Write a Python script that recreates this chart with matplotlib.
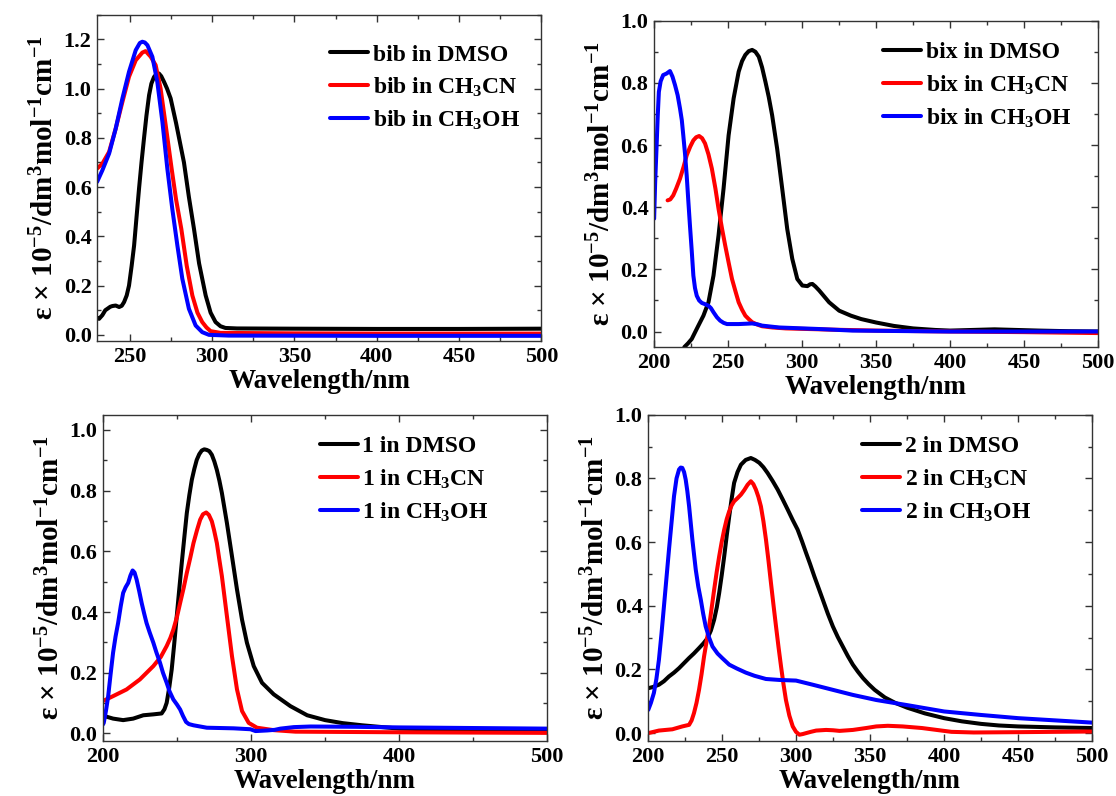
import matplotlib
matplotlib.use("Agg")
import matplotlib.pyplot as plt
from matplotlib.ticker import MultipleLocator, FormatStrFormatter

plt.rcParams['font.family'] = ['Liberation Serif', 'DejaVu Serif']
plt.rcParams['font.weight'] = 'bold'
plt.rcParams['axes.labelweight'] = 'bold'
plt.rcParams['mathtext.fontset'] = 'custom'
plt.rcParams['mathtext.rm'] = 'Liberation Serif:bold'
plt.rcParams['mathtext.it'] = 'Liberation Serif:bold'
plt.rcParams['mathtext.bf'] = 'Liberation Serif:bold'

############################################################################
#                      DATA
############################################################################

# --- bib ---
bib_dmso_x = [230, 231.2, 233.2, 235, 236.3, 238, 239.3, 241.3, 243.4, 245, 246.4, 248, 249.4,
              251, 252.5, 254, 255.5, 257, 258.5, 260, 261.6, 263, 264.6, 266, 267.6, 269,
              270.7, 272.5, 274.7, 278, 282.8, 285.8, 288.9, 292, 296, 299, 302, 305, 308,
              315, 350, 400, 450, 500]
bib_dmso_y = [0.07, 0.065, 0.08, 0.1, 0.106, 0.114, 0.117, 0.119, 0.113, 0.118, 0.133, 0.16, 0.2,
              0.28, 0.363, 0.48, 0.594, 0.7, 0.797, 0.89, 0.973, 1.02, 1.047, 1.058, 1.061, 1.05,
              1.027, 1.0, 0.96, 0.86, 0.7, 0.56, 0.43, 0.29, 0.16, 0.09, 0.052, 0.035, 0.028,
              0.026, 0.025, 0.024, 0.024, 0.025]
bib_mecn_x = [230, 233.2, 237.3, 241.3, 245.4, 249.4, 253.5, 257.5, 259.5, 262.6, 265.6, 268.6,
              271.7, 275.3, 278, 281.2, 284.5, 287.9, 291, 293.9, 296.5, 299, 305, 350, 400, 500]
bib_mecn_y = [0.675, 0.695, 0.743, 0.837, 0.946, 1.048, 1.115, 1.146, 1.152, 1.129, 1.095, 1.0,
              0.851, 0.675, 0.55, 0.43, 0.28, 0.16, 0.09, 0.052, 0.03, 0.015, 0.008, 0.006, 0.005,
              0.005]
bib_meoh_x = [230, 233.2, 237.3, 241.3, 245.4, 249.4, 253.5, 256, 257.5, 259, 260.6, 263.6, 266.6,
              269.7, 272.7, 275.7, 278.8, 281.8, 285.8, 289.9, 293.9, 298, 310, 400, 500]
bib_meoh_y = [0.621, 0.668, 0.736, 0.837, 0.96, 1.068, 1.156, 1.185, 1.19, 1.187, 1.176, 1.129,
              1.027, 0.865, 0.675, 0.512, 0.363, 0.228, 0.106, 0.038, 0.011, 0.0, -0.003, -0.004,
              -0.004]

# --- bix ---
bix_dmso_x = [220.5, 223, 225.5, 228, 230, 233.4, 236.8, 240.2, 243.6, 247, 250.4, 253.8, 257.2,
              259.5, 261.7, 264, 266.3, 268.5, 270.8, 273, 275.3, 277.5, 279.8, 283.2, 286.6, 290,
              293.4, 296.8, 300.2, 303.6, 305.5, 307, 309, 311.6, 318.3, 325.1, 333, 340, 350,
              362, 375, 390, 400, 415, 430, 445, 460, 480, 500]
bix_dmso_y = [-0.05, -0.038, -0.024, 0.0, 0.019, 0.051, 0.094, 0.18, 0.309, 0.46, 0.631, 0.75,
              0.836, 0.87, 0.89, 0.902, 0.906, 0.9, 0.884, 0.85, 0.803, 0.755, 0.696, 0.588, 0.46,
              0.33, 0.234, 0.169, 0.148, 0.146, 0.152, 0.153, 0.145, 0.132, 0.094, 0.067, 0.051,
              0.04, 0.029, 0.018, 0.01, 0.005, 0.003, 0.005, 0.007, 0.005, 0.003, 0.001, 0.0]
bix_mecn_x = [209.2, 211, 213, 215, 217.6, 220, 222.1, 224.5, 226.6, 228.5, 230.5, 232.5, 234.5,
              236.8, 239.1, 241.5, 243.6, 246, 248.1, 250.5, 252.7, 255, 257.2, 259.5, 261.7, 264,
              266.3, 270, 273, 280, 289, 320, 350, 400, 450, 500]
bix_mecn_y = [0.422, 0.425, 0.438, 0.46, 0.492, 0.53, 0.567, 0.595, 0.615, 0.625, 0.629, 0.622,
              0.605, 0.57, 0.524, 0.46, 0.395, 0.33, 0.277, 0.22, 0.169, 0.13, 0.094, 0.07, 0.051,
              0.04, 0.03, 0.022, 0.017, 0.013, 0.01, 0.006, 0.003, 0.0, -0.002, -0.005]
bix_meoh_x = [200.1, 200.8, 201.7, 202.5, 203.3, 204.5, 206.2, 208.5, 210.8, 212.5, 214.2, 216,
              217.6, 218.8, 219.8, 221, 222.1, 223.2, 224.3, 225.5, 226.6, 227.7, 228.9, 230.5,
              232.3, 234.5, 236.8, 238.5, 240.2, 242.5, 244.7, 247, 249.3, 257.2, 262, 266.3,
              270, 273, 284.4, 311.6, 334, 400, 450, 500]
bix_meoh_y = [0.363, 0.48, 0.588, 0.69, 0.771, 0.805, 0.825, 0.83, 0.838, 0.82, 0.793, 0.76,
              0.717, 0.68, 0.631, 0.57, 0.502, 0.42, 0.341, 0.26, 0.18, 0.14, 0.115, 0.1, 0.092,
              0.088, 0.083, 0.075, 0.062, 0.046, 0.035, 0.028, 0.024, 0.024, 0.025, 0.026, 0.023,
              0.019, 0.013, 0.008, 0.003, 0.0, 0.0, 0.0]

# --- compound 1 ---
c1_dmso_x = [200, 201.2, 206.8, 213.6, 220.4, 227.2, 234, 239.6, 241.5, 243, 244.7, 246.4, 248,
             249.8, 251.5, 253.2, 255, 256.6, 258.3, 260, 261.7, 263.3, 265, 266.7, 268.4, 270.1,
             271.8, 273.5, 275.2, 276.9, 278.6, 280.3, 283.7, 287.1, 290.5, 293.9, 297.2, 301.8,
             307.4, 315.3, 326.6, 337.9, 350, 362, 375, 400, 450, 500]
c1_dmso_y = [0.06, 0.057, 0.049, 0.044, 0.049, 0.06, 0.063, 0.066, 0.08, 0.101, 0.15, 0.211,
             0.29, 0.386, 0.475, 0.562, 0.65, 0.726, 0.785, 0.836, 0.872, 0.901, 0.92, 0.932,
             0.936, 0.934, 0.93, 0.918, 0.896, 0.868, 0.833, 0.792, 0.693, 0.584, 0.474, 0.375,
             0.299, 0.222, 0.167, 0.129, 0.09, 0.06, 0.044, 0.034, 0.027, 0.016, 0.011, 0.01]
c1_mecn_x = [200, 206.8, 215.9, 224.9, 234, 239, 243, 245.5, 247.5, 250, 252.1, 254.5, 256.6, 259,
             261.1, 263.5, 265.6, 267.5, 269.7, 271.5, 273.5, 275, 276.9, 278.5, 280.3, 283.7,
             287.1, 290.5, 293.9, 298.4, 304, 315.3, 330, 400, 450, 500]
c1_mecn_y = [0.107, 0.123, 0.145, 0.178, 0.222, 0.252, 0.288, 0.315, 0.342, 0.385, 0.43, 0.48,
             0.529, 0.58, 0.627, 0.67, 0.704, 0.722, 0.728, 0.72, 0.699, 0.67, 0.627, 0.575,
             0.518, 0.386, 0.255, 0.145, 0.074, 0.035, 0.019, 0.011, 0.006, 0.004, 0.003, 0.002]
c1_meoh_x = [200, 200.5, 202, 203.5, 205, 206.8, 208.5, 210.2, 212, 213.6, 215.3, 217, 218.5, 220,
             221.3, 222.7, 224.4, 226.1, 227.8, 229.4, 231.5, 234, 236, 238.5, 240.5, 243, 245,
             247.5, 250, 252.1, 254, 256.1, 258, 261.1, 270.1, 288.2, 299.5, 303, 310.8, 316,
             319.8, 328.9, 340.2, 370, 400, 450, 500]
c1_meoh_y = [0.03, 0.035, 0.075, 0.123, 0.19, 0.266, 0.32, 0.364, 0.42, 0.463, 0.482, 0.496, 0.52,
             0.537, 0.53, 0.507, 0.47, 0.43, 0.395, 0.364, 0.333, 0.299, 0.268, 0.233, 0.2, 0.167,
             0.138, 0.112, 0.095, 0.079, 0.058, 0.038, 0.031, 0.027, 0.019, 0.017, 0.014, 0.008,
             0.01, 0.012, 0.016, 0.021, 0.023, 0.022, 0.02, 0.018, 0.016]

# --- compound 2 ---
c2_dmso_x = [200.2, 203.5, 207.4, 210.8, 214.2, 217.6, 221, 224.4, 227.8, 231, 234.5, 237.5,
             240.2, 242.5, 244.7, 246.5, 248.1, 249.8, 251.5, 253.2, 254.9, 256.5, 258.2, 260.5,
             262.8, 266, 269.5, 272.3, 275.2, 278, 280.8, 284.2, 287.6, 291, 294.4, 297.7, 301.1,
             304, 306.8, 309.6, 312.4, 315.3, 318.1, 321.5, 324.9, 328.2, 331.6, 335, 338.4,
             341.8, 345.2, 349, 353.1, 360, 367, 375, 387, 400, 412, 425, 437, 450, 475, 500]
c2_dmso_y = [0.141, 0.145, 0.152, 0.163, 0.178, 0.19, 0.204, 0.22, 0.236, 0.25, 0.267, 0.282,
             0.298, 0.322, 0.356, 0.395, 0.44, 0.495, 0.555, 0.62, 0.681, 0.735, 0.786, 0.82,
             0.843, 0.858, 0.864, 0.858, 0.849, 0.835, 0.817, 0.792, 0.765, 0.734, 0.702, 0.67,
             0.639, 0.603, 0.566, 0.53, 0.492, 0.455, 0.419, 0.375, 0.335, 0.302, 0.272, 0.242,
             0.215, 0.193, 0.173, 0.154, 0.136, 0.112, 0.095, 0.08, 0.062, 0.047, 0.037, 0.029,
             0.024, 0.021, 0.018, 0.016]
c2_mecn_x = [200.2, 207.4, 216.5, 223.2, 227.8, 229.5, 231.1, 232.8, 234.5, 236.2, 237.9, 239.6,
             241.3, 243, 244.7, 246.4, 248.1, 249.8, 251.5, 253.2, 254.9, 256.5, 258.2, 260.5,
             262.8, 265, 267.3, 269.5, 271.2, 272.9, 274.6, 276.3, 278, 279.7, 281.4, 283.1,
             284.8, 286.5, 288.2, 289.9, 291.5, 293.2, 295.5, 297.8, 300, 302.3, 304.5, 306.8,
             310, 313.6, 320.3, 325, 329.4, 338.4, 347.4, 354.2, 362, 372, 385, 395, 405, 420,
             450, 475, 500]
c2_mecn_y = [0.0, 0.008, 0.012, 0.021, 0.026, 0.04, 0.063, 0.095, 0.136, 0.185, 0.241, 0.288,
             0.335, 0.392, 0.45, 0.505, 0.555, 0.6, 0.639, 0.672, 0.697, 0.715, 0.728, 0.738,
             0.749, 0.763, 0.78, 0.791, 0.782, 0.765, 0.742, 0.712, 0.665, 0.608, 0.542, 0.471,
             0.402, 0.335, 0.27, 0.209, 0.155, 0.104, 0.055, 0.021, 0.004, -0.005, -0.003, 0.0,
             0.004, 0.008, 0.01, 0.009, 0.007, 0.01, 0.016, 0.021, 0.023, 0.021, 0.016, 0.01,
             0.004, 0.002, 0.003, 0.004, 0.005]
c2_meoh_x = [200.2, 202, 204, 205.7, 207.4, 209.1, 210.8, 212.5, 214.2, 215.9, 217.6, 219.3, 221,
             222.1, 223.2, 224.4, 225.5, 226.6, 227.8, 228.9, 230, 231.2, 232.3, 234, 235.7,
             237.3, 239, 241.3, 243.6, 247, 250.3, 254.9, 260, 266.1, 272, 279.7, 288.7, 300,
             311.3, 324.8, 338.4, 354.2, 375, 400, 425, 450, 475, 500]
c2_meoh_y = [0.073, 0.095, 0.126, 0.17, 0.23, 0.31, 0.398, 0.487, 0.576, 0.66, 0.744, 0.8, 0.828,
             0.834, 0.833, 0.82, 0.796, 0.76, 0.712, 0.66, 0.608, 0.558, 0.513, 0.46, 0.419,
             0.375, 0.335, 0.3, 0.272, 0.25, 0.235, 0.215, 0.203, 0.19, 0.18, 0.17, 0.167, 0.165,
             0.152, 0.136, 0.12, 0.104, 0.088, 0.068, 0.057, 0.047, 0.04, 0.033]

COLORS = ['black', '#ff0000', '#0000ff']
YLABEL = r'ε × 10$^{-5}$/dm$^{3}$mol$^{-1}$cm$^{-1}$'


def draw_panel(ax, series, labels, xlim, ylim, xmajor, ymajor, legend_xy):
    for (x, y), lab, c in zip(series, labels, COLORS):
        ax.plot(x, y, color=c, lw=2.9, label=lab, solid_joinstyle='round',
                solid_capstyle='round')
    ax.set_xlim(*xlim)
    ax.set_ylim(*ylim)
    ax.xaxis.set_major_locator(MultipleLocator(xmajor))
    ax.xaxis.set_minor_locator(MultipleLocator(xmajor / 2))
    ax.yaxis.set_major_locator(MultipleLocator(ymajor))
    ax.yaxis.set_minor_locator(MultipleLocator(ymajor / 2))
    ax.yaxis.set_major_formatter(FormatStrFormatter('%.1f'))
    ax.tick_params(which='both', direction='in', top=True, right=True,
                   labelsize=16, width=1, color='#333333', pad=4)
    ax.tick_params(which='major', length=5)
    ax.tick_params(which='minor', length=3)
    for s in ax.spines.values():
        s.set_color('#333333')
        s.set_linewidth(1)
    ax.set_xlabel('Wavelength/nm', fontsize=19.5, labelpad=2)
    ax.set_ylabel(YLABEL, fontsize=21, labelpad=3)
    ax.legend(loc='upper left', bbox_to_anchor=legend_xy, frameon=False, fontsize=17,
              handlelength=1.6, handletextpad=0.2, labelspacing=0.42, borderpad=0,
              borderaxespad=0)


fig = plt.figure(figsize=(11.16, 7.96), dpi=100)

ax1 = fig.add_axes([0.087, 0.5716, 0.398, 0.41])
draw_panel(ax1, [(bib_dmso_x, bib_dmso_y), (bib_mecn_x, bib_mecn_y), (bib_meoh_x, bib_meoh_y)],
           ['bib in DMSO', 'bib in CH$_3$CN', 'bib in CH$_3$OH'],
           (230, 500), (-0.025, 1.3), 50, 0.2, (0.525, 0.91))

ax2 = fig.add_axes([0.586, 0.564, 0.398, 0.41])
draw_panel(ax2, [(bix_dmso_x, bix_dmso_y), (bix_mecn_x, bix_mecn_y), (bix_meoh_x, bix_meoh_y)],
           ['bix in DMSO', 'bix in CH$_3$CN', 'bix in CH$_3$OH'],
           (200, 500), (-0.05, 1.0), 50, 0.2, (0.516, 0.935))

ax3 = fig.add_axes([0.0923, 0.069, 0.398, 0.41])
draw_panel(ax3, [(c1_dmso_x, c1_dmso_y), (c1_mecn_x, c1_mecn_y), (c1_meoh_x, c1_meoh_y)],
           ['1 in DMSO', '1 in CH$_3$CN', '1 in CH$_3$OH'],
           (200, 500), (-0.025, 1.05), 100, 0.2, (0.488, 0.935))

ax4 = fig.add_axes([0.5806, 0.069, 0.398, 0.41])
draw_panel(ax4, [(c2_dmso_x, c2_dmso_y), (c2_mecn_x, c2_mecn_y), (c2_meoh_x, c2_meoh_y)],
           ['2 in DMSO', '2 in CH$_3$CN', '2 in CH$_3$OH'],
           (200, 500), (-0.025, 1.0), 50, 0.2, (0.482, 0.935))

fig.savefig('out.png', dpi=100)
